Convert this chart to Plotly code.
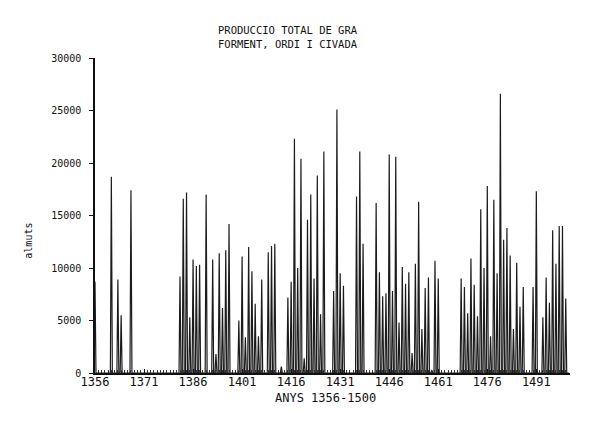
import plotly.graph_objects as go

# Years with recorded production (almuts); other years are zero
anys = [1356, 1361, 1363, 1364, 1367,
        1382, 1383, 1384, 1385, 1386, 1387, 1388, 1390, 1392, 1393, 1394, 1395, 1396, 1397,
        1400, 1401, 1402, 1403, 1404, 1405, 1406, 1407, 1409, 1410, 1411, 1413,
        1415, 1416, 1417, 1418, 1419, 1420, 1421, 1422, 1423, 1424, 1425, 1426,
        1429, 1430, 1431, 1432, 1436, 1437, 1438,
        1442, 1443, 1444, 1445, 1446, 1447, 1448, 1449, 1450, 1451, 1452, 1453, 1454,
        1455, 1456, 1457, 1458, 1459, 1460, 1461,
        1468, 1469, 1470, 1471, 1472, 1473, 1474, 1475, 1476, 1477, 1478, 1479, 1480,
        1481, 1482, 1483, 1484, 1485, 1486, 1487,
        1490, 1491, 1493, 1494, 1495, 1496, 1497, 1498, 1499, 1500]
almuts = [8700, 18700, 8900, 5500, 17400,
          9200, 16600, 17200, 5300, 10800, 10200, 10300, 17000, 10800, 1800, 11400, 6200, 11700, 14200,
          5000, 11100, 3400, 12000, 9700, 6600, 3500, 8900, 11500, 12100, 12300, 600,
          7200, 8700, 22300, 10000, 20400, 1400, 14600, 17000, 9000, 18800, 5600, 21100,
          7800, 25100, 9500, 8300, 16800, 21100, 12300,
          16200, 9600, 7300, 7600, 20800, 7800, 20600, 4800, 10100, 8500, 9600, 1900, 10400,
          16300, 4200, 8100, 9100, 300, 10700, 9000,
          9000, 8200, 5700, 10900, 8400, 5400, 15600, 10000, 17800, 3500, 16500, 9500, 26600,
          12700, 13800, 11200, 4200, 10500, 6300, 8200,
          8200, 17300, 5300, 9100, 6700, 13600, 10400, 14000, 14000, 7100]

x_ticks = [1356, 1371, 1386, 1401, 1416, 1431, 1446, 1461, 1476, 1491]
y_ticks = [0, 5000, 10000, 15000, 20000, 25000, 30000]

# build spike polyline: baseline -> value -> baseline for each year
xs, ys = [1356], [0]
for a, v in zip(anys, almuts):
    xs += [a - 0.3, a, a + 0.3]
    ys += [0, v, 0]
xs.append(1501)
ys.append(0)

mono = "DejaVu Sans Mono"
fig = go.Figure()
fig.add_trace(go.Scatter(x=xs, y=ys, mode="lines",
                         line=dict(color="#1c1c1c", width=1.2),
                         hoverinfo="skip", showlegend=False))

fig.update_layout(
    width=595, height=413,
    margin=dict(l=87, r=33, t=50, b=48),
    paper_bgcolor="white", plot_bgcolor="white",
    font=dict(family=mono, color="#111", size=10),
    showlegend=False,
    xaxis=dict(range=[1356, 1501.3], tickmode="array", tickvals=x_ticks,
               ticktext=[str(t) for t in x_ticks],
               showgrid=False, zeroline=False, showline=True,
               linecolor="#111", linewidth=1.5,
               ticks="inside", ticklen=4, tickcolor="#111",
               ticklabelstandoff=-3,
               tickfont=dict(family=mono, size=12, color="#111"),
               minor=dict(dtick=1, tick0=1356, ticks="inside", ticklen=3,
                          tickcolor="#333", showgrid=False)),
    yaxis=dict(range=[0, 30000], tickmode="array", tickvals=y_ticks,
               ticktext=[str(t) for t in y_ticks],
               showgrid=False, zeroline=False, showline=True,
               linecolor="#111", linewidth=1.5,
               ticks="outside", ticklen=4, tickcolor="#111",
               ticklabelstandoff=6,
               tickfont=dict(family=mono, size=10, color="#111")),
    annotations=[
        dict(text="PRODUCCIO TOTAL DE GRA<br>FORMENT, ORDI I CIVADA",
             xref="paper", yref="paper", x=0.406, y=1.066,
             xanchor="center", yanchor="middle", showarrow=False,
             font=dict(family=mono, size=10.5, color="#111")),
        dict(text="ANYS 1356-1500", xref="paper", yref="paper",
             x=0.486, y=-0.08, xanchor="center", yanchor="middle",
             showarrow=False, font=dict(family=mono, size=12, color="#111")),
        dict(text="almuts", xref="paper", yref="paper",
             x=-0.139, y=0.42, xanchor="center", yanchor="middle",
             textangle=-90, showarrow=False,
             font=dict(family=mono, size=10, color="#111")),
    ],
)

fig.write_html("out.html")
